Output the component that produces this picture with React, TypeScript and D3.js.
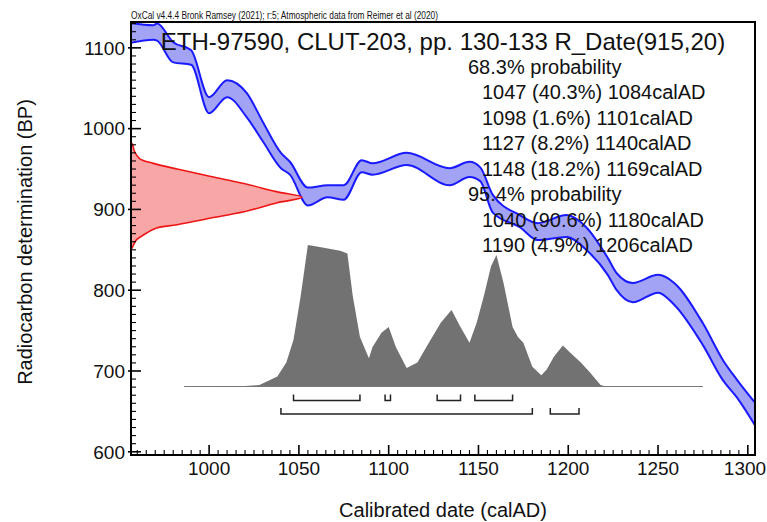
import React, { useEffect, useRef } from 'react';
import * as d3 from 'd3';

// calibration curve (IntCal20 band)
const curveYears = [956, 969, 971, 980, 990, 1000, 1010, 1021, 1030, 1040, 1045, 1055, 1066, 1075, 1085, 1091, 1110, 1134, 1145, 1151, 1158, 1173, 1183, 1199, 1210, 1222, 1227, 1236, 1250, 1259, 1275, 1286, 1294, 1305];
const curveUpper = [1131, 1128, 1130, 1107, 1097, 1039, 1060, 1044, 1008, 970, 959, 927, 930, 930, 961, 957, 970, 951, 959, 952, 918, 893, 883, 893, 878, 840, 821, 809, 819, 809, 759, 714, 689, 658];
const curveLower = [1106, 1110, 1109, 1082, 1079, 1019, 1039, 1014, 984, 951, 943, 905, 915, 912, 946, 943, 955, 930, 940, 935, 896, 878, 862, 866, 850, 819, 800, 785, 797, 782, 732, 689, 667, 629];

// radiocarbon date R_Date(915,20)
const dateBP = [983, 980, 972, 963, 957, 950, 941, 932, 922, 915, 908, 897, 889, 881, 877, 868, 862, 854, 850];
const dateProb = [0, 0.01, 0.02, 0.05, 0.13, 0.27, 0.46, 0.66, 0.85, 1.0, 0.85, 0.66, 0.46, 0.27, 0.15, 0.07, 0.03, 0.01, 0];

// calibrated distribution
const postYears = [986, 1020, 1028, 1038, 1043, 1047, 1051, 1055, 1060, 1073, 1077, 1080, 1084, 1089, 1091, 1096, 1100, 1104, 1110, 1116, 1121, 1129, 1135, 1140, 1145, 1149, 1153, 1157, 1160, 1164, 1169, 1172, 1175, 1180, 1185, 1188, 1192, 1197, 1201, 1207, 1212, 1218, 1221, 1275];
const postProb = [0, 0.003, 0.01, 0.07, 0.17, 0.33, 0.64, 1.0, 0.99, 0.96, 0.94, 0.64, 0.35, 0.2, 0.28, 0.38, 0.42, 0.28, 0.13, 0.17, 0.28, 0.45, 0.54, 0.42, 0.31, 0.45, 0.64, 0.85, 0.93, 0.73, 0.42, 0.35, 0.31, 0.14, 0.08, 0.12, 0.21, 0.29, 0.24, 0.17, 0.1, 0.01, 0, 0];

const range68Start = [1047, 1098, 1127, 1148];
const range68End = [1084, 1101, 1140, 1169];
const range68Pct = ['40.3', '1.6', '8.2', '18.2'];
const range95Start = [1040, 1190];
const range95End = [1180, 1206];
const range95Pct = ['90.6', '4.9'];

const xTicks = [1000, 1050, 1100, 1150, 1200, 1250, 1300];
const yTicks = [600, 700, 800, 900, 1000, 1100];

const header = 'OxCal v4.4.4 Bronk Ramsey (2021); r:5; Atmospheric data from Reimer et al (2020)';
const title = 'ETH-97590, CLUT-203, pp. 130-133 R_Date(915,20)';

const W = 767;
const H = 522;
const box = { left: 131, right: 755, top: 22, bottom: 455 };
const FONT = 'Liberation Sans, Arial, Helvetica, sans-serif';

const App = () => {
  const svgRef = useRef<SVGSVGElement | null>(null);

  useEffect(() => {
    const svg = d3.select(svgRef.current);
    svg.selectAll('*').remove();

    svg.append('rect').attr('width', W).attr('height', H).attr('fill', '#fff');

    const x = d3.scaleLinear().domain([956.5, 1304]).range([box.left, box.right]);
    const y = d3.scaleLinear().domain([596, 1132]).range([box.bottom, box.top]);
    const redW = d3.scaleLinear().domain([0, 1]).range([box.left, 302]);
    const greyH = d3.scaleLinear().domain([0, 1]).range([386.5, 245]);

    svg.append('clipPath').attr('id', 'plot-clip')
      .append('rect')
      .attr('x', box.left).attr('y', box.top)
      .attr('width', box.right - box.left).attr('height', box.bottom - box.top);

    const plot = svg.append('g').attr('clip-path', 'url(#plot-clip)');

    // calibration curve band
    const band = curveYears.map((yr, i) => ({ yr, hi: curveUpper[i], lo: curveLower[i] }));
    const curve = d3.curveMonotoneX;
    plot.append('path')
      .datum(band)
      .attr('fill', '#a3a3f6')
      .attr('d', d3.area<any>().x(d => x(d.yr)).y0(d => y(d.lo)).y1(d => y(d.hi)).curve(curve));
    ['hi', 'lo'].forEach(k => {
      plot.append('path')
        .datum(band)
        .attr('fill', 'none')
        .attr('stroke', '#1a1aff')
        .attr('stroke-width', 2)
        .attr('d', d3.line<any>().x(d => x(d.yr)).y(d => y(d[k])).curve(curve));
    });

    // radiocarbon date on the y axis
    const red = dateBP.map((bp, i) => ({ bp, p: dateProb[i] }));
    plot.append('path')
      .datum(red)
      .attr('fill', '#f8a6a6')
      .attr('stroke', '#ee1515')
      .attr('stroke-width', 1.6)
      .attr('d', d3.area<any>().y(d => y(d.bp)).x0(box.left).x1(d => redW(d.p)).curve(d3.curveCatmullRom));

    // calibrated distribution
    const post = postYears.map((yr, i) => ({ yr, p: postProb[i] }));
    plot.append('line')
      .attr('x1', x(postYears[0])).attr('x2', x(postYears[postYears.length - 1]))
      .attr('y1', greyH(0)).attr('y2', greyH(0))
      .attr('stroke', '#7a7a7a').attr('stroke-width', 1);
    plot.append('path')
      .datum(post)
      .attr('fill', '#727272')
      .attr('d', d3.area<any>().x(d => x(d.yr)).y0(greyH(0)).y1(d => greyH(d.p)).curve(d3.curveLinear));

    // range brackets
    const bracket = (s: number, e: number, yy: number) => {
      plot.append('path')
        .attr('fill', 'none')
        .attr('stroke', '#222')
        .attr('stroke-width', 1.5)
        .attr('d', `M${x(s)},${yy - 6}V${yy}H${x(e)}V${yy - 6}`);
    };
    range68Start.forEach((s, i) => bracket(s, range68End[i], 400.5));
    range95Start.forEach((s, i) => bracket(s, range95End[i], 414));

    // ticks
    const axes = svg.append('g').attr('stroke', '#000');
    d3.range(600, 1131, 10).forEach(v => {
      const major = v % 100 === 0;
      axes.append('line')
        .attr('x1', box.left - (major ? 3 : 0)).attr('x2', box.left + (major ? 10 : 5))
        .attr('y1', y(v)).attr('y2', y(v))
        .attr('stroke-width', major ? 1.6 : 1.1);
    });
    d3.range(960, 1304, 5).forEach(v => {
      const major = v % 50 === 0;
      axes.append('line')
        .attr('x1', x(v)).attr('x2', x(v))
        .attr('y1', box.bottom).attr('y2', box.bottom - (major ? 10 : 5))
        .attr('stroke-width', major ? 1.6 : 1.1);
    });

    svg.append('rect')
      .attr('x', box.left).attr('y', box.top)
      .attr('width', box.right - box.left).attr('height', box.bottom - box.top)
      .attr('fill', 'none').attr('stroke', '#000').attr('stroke-width', 2);

    const text = svg.append('g').attr('font-family', FONT).attr('fill', '#111');

    text.selectAll('.ytick').data(yTicks).join('text')
      .attr('x', 125).attr('y', d => y(d)).attr('dy', '0.36em')
      .attr('text-anchor', 'end').attr('font-size', 19)
      .text(d => d);
    // last label would run off the right edge; keep it inside the page
    text.selectAll('.xtick').data(xTicks).join('text')
      .attr('x', d => Math.min(x(d), W - 22)).attr('y', 475)
      .attr('text-anchor', 'middle').attr('font-size', 19)
      .text(d => d);

    text.append('text')
      .attr('x', 443).attr('y', 517).attr('text-anchor', 'middle').attr('font-size', 20)
      .text('Calibrated date (calAD)');
    text.append('text')
      .attr('transform', 'translate(32,242) rotate(-90)')
      .attr('text-anchor', 'middle').attr('font-size', 20)
      .text('Radiocarbon determination (BP)');

    text.append('text')
      .attr('x', box.left).attr('y', 19).attr('font-size', 10)
      .attr('textLength', 307).attr('lengthAdjust', 'spacingAndGlyphs')
      .text(header);
    text.append('text')
      .attr('x', 443).attr('y', 49.5).attr('text-anchor', 'middle').attr('font-size', 24)
      .text(title);

    const lines: { t: string; dx: number }[] = [{ t: '68.3% probability', dx: 0 }];
    range68Start.forEach((s, i) => lines.push({ t: `${s} (${range68Pct[i]}%) ${range68End[i]}calAD`, dx: 14 }));
    lines.push({ t: '95.4% probability', dx: 0 });
    range95Start.forEach((s, i) => lines.push({ t: `${s} (${range95Pct[i]}%) ${range95End[i]}calAD`, dx: 14 }));
    lines.forEach((l, i) => {
      text.append('text')
        .attr('x', 468 + l.dx).attr('y', 73.5 + i * 25.5)
        .attr('font-size', 20)
        .text(l.t);
    });
  }, []);

  return (
    <svg ref={svgRef} width={W} height={H} style={{ position: 'absolute', left: 0, top: 0 }} />
  );
};

export default App;
